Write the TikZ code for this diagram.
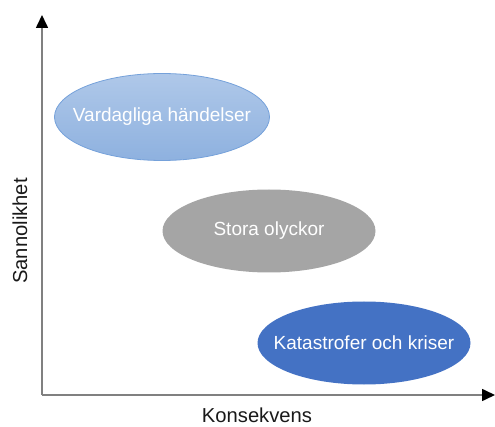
\documentclass[tikz,border=0pt]{standalone}
\usepackage{fontspec}
\setmainfont{Liberation Sans}
\usepackage{tikz}
\usetikzlibrary{shapes.geometric, arrows.meta}

\definecolor{axisgray}{HTML}{808080}
\definecolor{lightbluetop}{HTML}{AFC8E9}
\definecolor{lightbluebot}{HTML}{8EB1DF}
\definecolor{lightblueline}{HTML}{75A1DA}
\definecolor{midgray}{HTML}{A5A5A5}
\definecolor{darkblue}{HTML}{4472C4}

\begin{document}
\begin{tikzpicture}[x=1pt, y=-1pt,
  axis/.style={draw=axisgray, line width=1.6pt, -{Triangle[color=black, length=13pt, width=12pt]}},
  event/.style={ellipse, inner sep=0pt, minimum width=213pt, minimum height=83pt,
    text=white, font=\fontsize{19}{23}\selectfont},
  axislabel/.style={inner sep=0pt, font=\fontsize{20.2}{24}\selectfont, text=black!90}]
\useasboundingbox (0,0) rectangle (495,427);

% axes
\coordinate (origin) at (42,395);
\coordinate (ytip) at (42,15);
\coordinate (xtip) at (495,395);
\draw[axis] (origin) -- (ytip);
\draw[axis] (origin) -- (xtip);

\node[axislabel] (konsekvens) at (257,415.5) {Konsekvens};
\node[axislabel, rotate=90] (sannolikhet) at (20,231) {Sannolikhet};

% events
\node[event, top color=lightbluetop, bottom color=lightbluebot, draw=lightblueline, line width=0.8pt,
  minimum height=87pt, minimum width=215pt] (vardag) at (162,117) {\makebox[0pt]{Vardagliga händelser}};
\node[event, fill=midgray] (olyckor) at (269,231) {\makebox[0pt]{Stora olyckor}};
\node[event, fill=darkblue] (kriser) at (364,343) {\makebox[0pt]{Katastrofer och kriser}};
\end{tikzpicture}
\end{document}
